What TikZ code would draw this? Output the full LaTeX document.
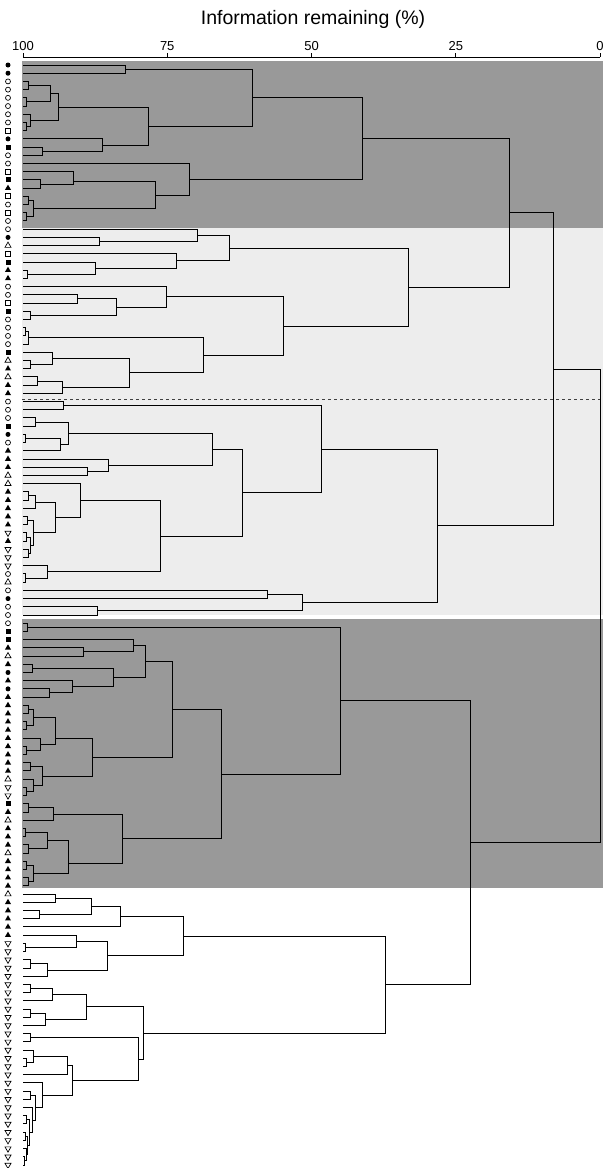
\documentclass[tikz,border=0pt]{standalone}
\usepackage{fontspec}
\setmainfont{Liberation Sans}
\usetikzlibrary{calc,shapes.geometric}
\newcommand\mg[5][0.5]{%
  \coordinate (tmpc) at ($(#3)!#1!(#4)$);
  \path let \p1=(tmpc) in coordinate (#2) at (#5pt,\y1);
  \draw[dline] (#3) -| (#2);
  \draw[dline] (#4) -| (#2);
}
\begin{document}
\begin{tikzpicture}[x=1pt,y=-1pt,
  dline/.style={line width=1pt,black,line cap=rect},
  symTF/.style={regular polygon,regular polygon sides=3,fill=black,inner sep=0pt,minimum size=7pt},
  symTO/.style={regular polygon,regular polygon sides=3,draw=black,fill=white,line width=0.7pt,inner sep=0pt,minimum size=7pt},
  symVO/.style={regular polygon,regular polygon sides=3,shape border rotate=180,draw=black,fill=white,line width=0.7pt,inner sep=0pt,minimum size=7pt},
  symSF/.style={rectangle,fill=black,inner sep=0pt,minimum size=5pt},
  symSO/.style={rectangle,draw=black,fill=white,line width=0.7pt,inner sep=0pt,minimum size=5pt},
  symCF/.style={circle,fill=black,inner sep=0pt,minimum size=5pt},
  symCO/.style={circle,draw=black,fill=white,line width=0.7pt,inner sep=0pt,minimum size=5pt},
  ticklab/.style={font=\fontsize{13}{15}\selectfont,inner sep=0pt}]
\useasboundingbox (0,0) rectangle (606,1168);
% shaded bands
\fill[black!40] (22,61) rectangle (603,228);
\fill[black!7] (22,228) rectangle (603,615);
\fill[black!40] (22,619) rectangle (603,888);
\draw[dashed,line width=0.5pt,black!75] (22,399) -- (603,399);
% axis
\node[font=\fontsize{19.5}{22}\selectfont,inner sep=0pt] (title) at (313,19) {Information remaining (\%)};
\foreach \p/\lab in {0/0,25/25,50/50,75/75,100/100}{
  \coordinate (tk\p) at ({600-5.77*\p},57);
  \node[ticklab] (tl\p) at ({600-5.77*\p},46) {\lab};
  \draw[line width=0.7pt] (tk\p) -- ++(0,-4);
}
\draw[line width=0.8pt] (tk100) -- (tk0);
% leaves
\foreach \i/\ty in {1/CF,2/CF,3/CO,4/CO,5/CO,6/CO,7/CO,8/CO,9/SO,10/CF,11/SF,12/CO,13/CO,14/SO,15/SF,16/TF,17/SO,18/CO,19/SO,20/CO,
21/CO,22/CF,23/TO,24/SO,25/SF,26/TF,27/TF,28/CO,29/CO,30/SO,31/SF,32/CO,33/CO,34/CO,35/CO,36/SF,37/TO,38/TF,39/TO,40/TF,41/TF,
42/CO,43/CO,44/CO,45/SF,46/CF,47/CO,48/TF,49/TF,50/TF,51/TO,52/TO,53/TF,54/TF,55/TF,56/TF,57/TF,58/VO,59/TF,60/VO,61/VO,62/VO,63/CO,64/TO,65/CO,66/CF,67/CO,68/CO,
69/CO,70/SF,71/SF,72/TF,73/TO,74/TF,75/CF,76/TF,77/CF,78/TF,79/TF,80/TF,81/TF,82/TF,83/TF,84/TF,85/TF,86/TF,87/TF,88/TO,89/VO,90/VO,91/SF,92/TF,93/TO,94/TF,95/TF,96/TF,97/TO,98/TF,99/TF,100/TF,101/TF,
102/TO,103/TF,104/TF,105/TF,106/TF,107/TF,108/VO,109/VO,110/VO,111/VO,112/VO,113/VO,114/VO,115/VO,116/VO,117/VO,118/VO,119/VO,120/VO,121/VO,122/VO,123/VO,124/VO,125/VO,126/VO,127/VO,128/VO,129/VO,130/VO,131/VO,132/VO,133/VO,134/VO,135/VO}{
  \coordinate (l\i) at (23,{65+8.209*(\i-1)});
  \node[sym\ty] (s\i) at (8,{65+8.209*(\i-1)}) {};
}
% ---- section T ----
\mg{na}{l1}{l2}{125}
\mg{n34}{l3}{l4}{28}
\mg{n56}{l5}{l6}{26}
\mg{n36}{n34}{n56}{50}
\mg{n89}{l8}{l9}{26}
\mg{n79}{l7}{n89}{30}
\mg{nb1}{n36}{n79}{58}
\mg{n1112}{l11}{l12}{42}
\mg{n1012}{l10}{n1112}{102}
\mg{t1b}{nb1}{n1012}{148}
\mg{t1}{na}{t1b}{252}
\mg{n1516}{l15}{l16}{40}
\mg[0.8]{t2b1}{l14}{n1516}{73}
\mg{n1718}{l17}{l18}{28}
\mg{n1920}{l19}{l20}{26}
\mg{t2b2}{n1718}{n1920}{33}
\mg{t2b}{t2b1}{t2b2}{155}
\mg{t2}{l13}{t2b}{189}
\mg{T}{t1}{t2}{362}
% ---- section L1 ----
\mg{n2223}{l22}{l23}{99}
\mg{n197}{l21}{n2223}{197}
\mg{n2627}{l26}{l27}{27}
\mg{n95}{l25}{n2627}{95}
\mg{n176}{l24}{n95}{176}
\mg{L1a}{n197}{n176}{229}
\mg{n77}{l29}{l30}{77}
\mg{n3132}{l31}{l32}{30}
\mg{n116}{n77}{n3132}{116}
\mg{n166}{l28}{n116}{166}
\mg{n3334}{l33}{l34}{25}
\mg{na33}{n3334}{l35}{28}
\mg{n3738}{l37}{l38}{30}
\mg{n52}{l36}{n3738}{52}
\mg{n3940}{l39}{l40}{37}
\mg{n62}{n3940}{l41}{62}
\mg{n129}{n52}{n62}{129}
\mg{n203}{na33}{n129}{203}
\mg{L1b}{n166}{n203}{283}
\mg{L1}{L1a}{L1b}{408}
\mg{A1}{T}{L1}{509}
% ---- section A2 ----
\mg{n4243}{l42}{l43}{63}
\mg{n4445}{l44}{l45}{35}
\mg{n4647}{l46}{l47}{25}
\mg{n4648}{n4647}{l48}{60}
\mg{n68}{n4445}{n4648}{68}
\mg{n5051}{l50}{l51}{87}
\mg{n108}{l49}{n5051}{108}
\mg{n212}{n68}{n108}{212}
\mg{n5354}{l53}{l54}{28}
\mg{g1}{n5354}{l55}{35}
\mg{n5657}{l56}{l57}{27}
\mg{n5859}{l58}{l59}{26}
\mg{n6061}{l60}{l61}{28}
\mg{n5861}{n5859}{n6061}{30}
\mg{g2}{n5657}{n5861}{33}
\mg{n55}{g1}{g2}{55}
\mg{n80}{l52}{n55}{80}
\mg{n6364}{l63}{l64}{25}
\mg{n47}{l62}{n6364}{47}
\mg{n160}{n80}{n47}{160}
\mg{A2a2}{n212}{n160}{242}
\mg{A2a}{n4243}{A2a2}{321}
\mg{n267}{l65}{l66}{267}
\mg{n97}{l67}{l68}{97}
\mg{A2b}{n267}{n97}{302}
\mg{A2}{A2a}{A2b}{437}
\mg{A}{A1}{A2}{553}
% ---- section B1 ----
\mg{B1a}{l69}{l70}{27}
\mg{n7273}{l72}{l73}{83}
\mg{n133}{l71}{n7273}{133}
\mg{n7475}{l74}{l75}{32}
\mg{n7778}{l77}{l78}{49}
\mg{n72}{l76}{n7778}{72}
\mg{n113}{n7475}{n72}{113}
\mg{n145}{n133}{n113}{145}
\mg{n7980}{l79}{l80}{28}
\mg{n8182}{l81}{l82}{26}
\mg{g7982}{n7980}{n8182}{33}
\mg{n8485}{l84}{l85}{26}
\mg{g8385}{l83}{n8485}{40}
\mg[0.8]{nc}{g7982}{g8385}{55}
\mg{n8687}{l86}{l87}{30}
\mg{n8990}{l89}{l90}{26}
\mg{n8890}{l88}{n8990}{33}
\mg{n42}{n8687}{n8890}{42}
\mg{n92}{nc}{n42}{92}
\mg{n172}{n145}{n92}{172}
\mg{n9192}{l91}{l92}{28}
\mg{nd}{n9192}{l93}{53}
\mg{n9495}{l94}{l95}{25}
\mg{n9697}{l96}{l97}{28}
\mg{g9497}{n9495}{n9697}{47}
\mg{n9899}{l98}{l99}{26}
\mg{n100101}{l100}{l101}{28}
\mg{g98101}{n9899}{n100101}{33}
\mg[0.7]{n68b}{g9497}{g98101}{68}
\mg{n122}{nd}{n68b}{122}
\mg{B1b}{n172}{n122}{221}
\mg{B1}{B1a}{B1b}{340}
% ---- section B2 ----
\mg{n102103}{l102}{l103}{55}
\mg{n104105}{l104}{l105}{39}
\mg{n91}{n102103}{n104105}{91}
\mg{n120}{n91}{l106}{120}
\mg{n108109}{l108}{l109}{25}
\mg{n76}{l107}{n108109}{76}
\mg{n110111}{l110}{l111}{30}
\mg{n47b}{n110111}{l112}{47}
\mg{n107}{n76}{n47b}{107}
\mg{n183}{n120}{n107}{183}
\mg{n113114}{l113}{l114}{30}
\mg{n52b}{n113114}{l115}{52}
\mg{n116117}{l116}{l117}{30}
\mg{n45}{n116117}{l118}{45}
\mg{n86}{n52b}{n45}{86}
\mg{n119120}{l119}{l120}{30}
\mg{n122123}{l122}{l123}{26}
\mg{n121123}{l121}{n122123}{33}
\mg{n67}{n121123}{l124}{67}
\mg{n134135}{l134}{l135}{24.5}
\mg{c3b}{l133}{n134135}{26}
\mg{n131132}{l131}{l132}{25}
\mg{c3}{n131132}{c3b}{27}
\mg{n129130}{l129}{l130}{26}
\mg{c2}{n129130}{c3}{29}
\mg{crest}{l128}{c2}{32}
\mg{n126127}{l126}{l127}{30}
\mg{n35}{n126127}{crest}{35}
\mg{n42b}{l125}{n35}{42}
\mg{n72b}{n67}{n42b}{72}
\mg{n138}{n119120}{n72b}{138}
\mg{n143}{n86}{n138}{143}
\mg{B2}{n183}{n143}{385}
\mg{B}{B1}{B2}{470}
\mg{R}{A}{B}{600}
\end{tikzpicture}
\end{document}
